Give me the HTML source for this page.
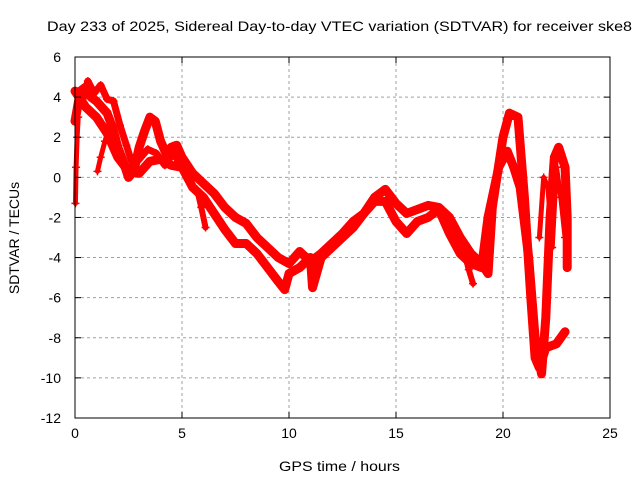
<!DOCTYPE html>
<html><head><meta charset="utf-8"><style>
body{margin:0;background:#fff;}
svg{display:block;font-family:"Liberation Sans",sans-serif;}
</style></head><body>
<svg id="chart" width="640" height="480" viewBox="0 0 640 480">
<text x="47" y="31" font-size="14" textLength="585" lengthAdjust="spacingAndGlyphs">Day 233 of 2025, Sidereal Day-to-day VTEC variation (SDTVAR) for receiver ske8</text>
<g id="grid"></g>
<g id="series"></g>
<rect x="75" y="57" width="535" height="361" fill="none" stroke="#000" stroke-width="1"/>
<g id="ticks"></g>
<text x="279" y="471" font-size="14" textLength="121" lengthAdjust="spacingAndGlyphs">GPS time / hours</text>
<text transform="translate(19,238) rotate(-90)" font-size="14" text-anchor="middle">SDTVAR / TECUs</text>
</svg>
<script>
const xTicks=[0,5,10,15,20,25];
const yTicks=[6,4,2,0,-2,-4,-6,-8,-10,-12];
const tA=[0,0.25,0.5,0.75,1,1.25,1.5,1.75,2,2.25,2.5,2.75,3,3.25,3.5,3.75,4,4.25,4.5,4.75,5,5.5,6,6.5,7,7.5,8,8.5,9,9.5,10,10.5,11,11.5,12,12.5,13,13.5,14,14.5,15,15.5,16,16.5,17,17.5,18,18.5,19,19.3,19.5,20,20.3,20.7,21,21.3,21.5,21.7,22,22.5,22.9];
const vA=[2.8,4.3,4.5,4.0,3.8,3.5,3.2,2.5,1.5,0.8,0.0,0.3,1.5,2.3,3.0,2.8,1.8,1.2,1.5,1.6,1.0,0.2,-0.3,-0.8,-1.5,-2.0,-2.3,-3.0,-3.5,-4.0,-4.3,-3.7,-4.2,-3.8,-3.3,-2.8,-2.2,-1.8,-1.0,-0.6,-1.3,-1.8,-1.6,-1.4,-1.5,-2.0,-3.0,-3.8,-4.3,-4.8,-1.5,2.0,3.2,3.0,-1.0,-6.0,-9.0,-9.5,-8.5,-8.3,-7.7];
const tB=[0,0.5,1,1.5,2,2.5,3,3.5,4,4.5,5,5.5,6,6.5,7,7.5,8,8.5,9,9.5,9.8,10,10.5,11,11.1,11.5,12,12.5,13,13.5,14,14.5,15,15.5,16,16.5,17,17.5,18,18.5,19,19.3,19.8,20.2,20.5,20.8,21.2,21.5,21.8,22,22.2,22.4,22.6,22.9,23,23];
const vB=[4.3,3.5,3.0,2.2,1.0,0.3,0.2,0.8,0.9,0.6,0.5,-0.5,-1.0,-1.8,-2.6,-3.3,-3.3,-3.8,-4.5,-5.2,-5.6,-4.8,-4.5,-4.0,-5.5,-4.0,-3.5,-3.0,-2.5,-1.8,-1.2,-1.2,-2.2,-2.8,-2.2,-2.0,-1.6,-2.8,-3.8,-4.3,-4.5,-2.0,0.5,1.3,0.5,-0.5,-4.0,-8.0,-9.8,-7.0,-2.0,1.0,1.5,0.5,-2.0,-4.5];
const tH=[0.3,0.6,0.9,1.2,1.5,1.8,2.1,2.4,2.7,3.0,3.4,3.8,4.2,4.6,5.0];
const vH=[3.6,4.8,4.2,4.6,3.9,3.8,2.6,1.6,0.6,0.9,1.4,1.2,0.6,1.2,0.5];
const tC=[0.02,0.05,0.1,0.15];
const vC=[-1.3,0.5,2.0,3.0];
const tD=[1.05,1.2,1.4,1.6];
const vD=[0.3,1.0,1.8,2.5];
const tE=[5.7,5.9,6.1];
const vE=[-0.6,-1.5,-2.5];
const tF=[21.7,21.9,22.1,22.3,22.5,22.7,22.9];
const vF=[-3.0,0.0,-0.5,-3.5,0.5,-1.0,-3.0];
const tG=[18.2,18.4,18.6];
const vG=[-3.8,-4.6,-5.3];
const NS="http://www.w3.org/2000/svg";
const X0=75,X1=610,Y0=57,Y1=418;
function sx(t){return X0+(t-0)/(25-0)*(X1-X0);}
function sy(v){return Y1-(v+12)/(6+12)*(Y1-Y0);}
const grid=document.getElementById('grid'),ticks=document.getElementById('ticks'),ser=document.getElementById('series');
function mk(tag,attrs,parent){const e=document.createElementNS(NS,tag);for(const k in attrs)e.setAttribute(k,attrs[k]);parent.appendChild(e);return e;}
xTicks.forEach(t=>{const x=sx(t);
 if(t>0&&t<25){const g=mk('line',{x1:x,x2:x,y1:Y0,y2:Y1,stroke:'#a0a0a0','stroke-dasharray':'3,3'},grid);
 
 }
 mk('line',{x1:x,x2:x,y1:Y1,y2:Y1-6,stroke:'#000'},ticks);
 mk('line',{x1:x,x2:x,y1:Y0,y2:Y0+6,stroke:'#000'},ticks);
 const l=mk('text',{x:x,y:Y1+20,'font-size':14,'text-anchor':'middle'},ticks);l.textContent=t;
 
 
});
yTicks.forEach(v=>{const y=sy(v);
 if(v<6&&v>-12){const g=mk('line',{x1:X0,x2:X1,y1:y,y2:y,stroke:'#a0a0a0','stroke-dasharray':'3,3'},grid);
 
 }
 mk('line',{x1:X0,x2:X0+6,y1:y,y2:y,stroke:'#000'},ticks);
 mk('line',{x1:X1,x2:X1-6,y1:y,y2:y,stroke:'#000'},ticks);
 const l=mk('text',{x:X0-14,y:y+5,'font-size':14,'text-anchor':'end'},ticks);l.textContent=v;
 
 
});
function drawSeries(ts,vs,w,name){
 const pts=ts.map((t,i)=>sx(t)+','+sy(vs[i])).join(' ');
 const p=mk('polyline',{points:pts,fill:'none',stroke:'#ff0000','stroke-width':w,'stroke-linejoin':'round','stroke-linecap':'round'},ser);
 
 
 ts.forEach((t,i)=>{const x=sx(t),y=sy(vs[i]);
  const m=mk('path',{d:`M${x-4},${y}H${x+4}M${x},${y-4}V${y+4}`,stroke:'#ff0000','stroke-width':1.5},ser);
  
  
 });
}
drawSeries(tA,vA,9,'series-track-a');
drawSeries(tB,vB,9,'series-track-b');
drawSeries(tH,vH,7,'series-track-h');
drawSeries(tC,vC,5,'series-spike-c');
drawSeries(tD,vD,5,'series-spike-d');
drawSeries(tE,vE,6,'series-spike-e');
drawSeries(tF,vF,5,'series-spike-f');
drawSeries(tG,vG,6,'series-spike-g');
</script>
</body></html>
